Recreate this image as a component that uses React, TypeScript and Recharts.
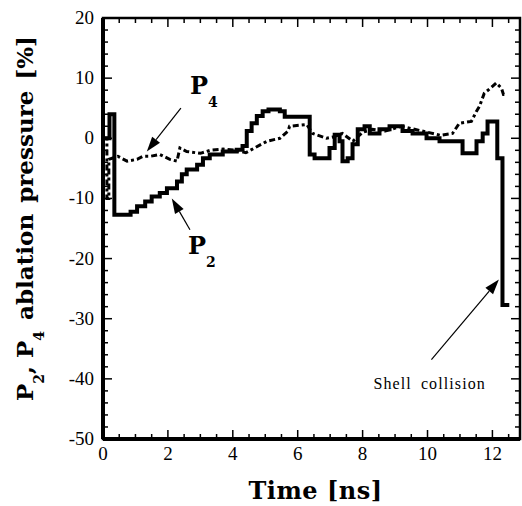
import { LineChart, Line, XAxis, YAxis, ReferenceLine, ReferenceDot, ReferenceArea, Label } from 'recharts';

// P2 mode (solid, stepped): time [ns] and value [%]
const p2Time = [0, 0.2, 0.35, 0.85, 1.05, 1.3, 1.5, 1.75, 1.97, 2.28, 2.43, 2.58, 2.9, 3.08, 3.29, 3.69, 4.12, 4.3, 4.43, 4.58, 4.74, 4.92, 5.1, 5.45, 5.6, 6.37, 6.52, 6.98, 7.14, 7.29, 7.38, 7.54, 7.69, 7.85, 8.06, 8.22, 8.52, 8.83, 9.23, 9.54, 9.97, 10.37, 10.77, 11.08, 11.51, 11.7, 11.85, 12.15, 12.31, 12.52];
const p2Values = [0, 4, -12.7, -12.2, -11.3, -10.5, -9.7, -9.1, -8.3, -7.2, -6, -5.2, -4.4, -3.3, -2.7, -2.2, -1.9, -1.3, 1.2, 2.5, 3.7, 4.5, 4.8, 4.5, 3.6, -2.7, -3.3, -1.6, 0.6, -0.5, -3.8, -3.3, -1, 1.5, 2, 0.8, 1.5, 2, 1.2, 0.8, 0, -0.5, -0.5, -2.5, -0.5, 0.8, 2.8, -3.3, -27.7, -27.7];

// P4 mode (dash-dot)
const p4Time = [0, 0.12, 0.12, 0.18, 0.18, 0.46, 0.74, 1.05, 1.23, 1.45, 1.75, 2.06, 2.28, 2.37, 2.58, 3.0, 3.3, 3.7, 4.1, 4.4, 5.05, 5.45, 5.7, 5.75, 6.28, 6.46, 6.89, 7.08, 7.38, 7.7, 8.0, 8.3, 8.7, 9.2, 9.6, 10.0, 10.4, 10.77, 10.98, 11.35, 11.51, 11.6, 11.75, 11.91, 12.12, 12.28, 12.34, 12.46];
const p4Values = [0, 0, -10, -10, -3.5, -3, -3.8, -3.5, -3, -3, -2.7, -3.5, -3.8, -1.6, -2.2, -2.5, -2, -1.8, -2, -2.4, -0.5, 0, 1.2, 2, 2.3, 0.8, 0, 0.2, 0.8, -0.5, 1, 1.5, 1.2, 2, 1.5, 1, 0.5, 0.8, 2.5, 2.8, 4.5, 5.3, 7.5, 8.2, 9.2, 8.3, 7.3, 7.3];

const xMajorTicks = [0, 2, 4, 6, 8, 10, 12];
const xMinorTicks = [0, 0.5, 1, 1.5, 2, 2.5, 3, 3.5, 4, 4.5, 5, 5.5, 6, 6.5, 7, 7.5, 8, 8.5, 9, 9.5, 10, 10.5, 11, 11.5, 12, 12.5];
const yMajorTicks = [-50, -40, -30, -20, -10, 0, 10, 20];
const yMinorTicks = [-50, -48, -46, -44, -42, -40, -38, -36, -34, -32, -30, -28, -26, -24, -22, -20, -18, -16, -14, -12, -10, -8, -6, -4, -2, 0, 2, 4, 6, 8, 10, 12, 14, 16, 18, 20];

const p2Data = p2Time.map((t, i) => ({ t, v: p2Values[i] }));
const p4Data = p4Time.map((t, i) => ({ t, v: p4Values[i] }));

// plot frame in px (margin + axis sizes below)
const frame = { left: 103, right: 520, top: 18, bottom: 439 };

const tickFont = 'Liberation Serif, serif';
const titleFont = 'DejaVu Serif, serif';

function BottomTick(props: any) {
  const major = xMajorTicks.includes(props.payload.value);
  const len = major ? 9 : 5;
  return (
    <g>
      <line x1={props.x} y1={frame.bottom} x2={props.x} y2={frame.bottom - len} stroke="black" strokeWidth={1.5} />
      <line x1={props.x} y1={frame.top} x2={props.x} y2={frame.top + len} stroke="black" strokeWidth={1.5} />
      {major && (
        <text x={props.x} y={frame.bottom + 21} textAnchor="middle" fontFamily={tickFont} fontSize={19} fill="black">
          {props.payload.value}
        </text>
      )}
    </g>
  );
}

function LeftTick(props: any) {
  const major = yMajorTicks.includes(props.payload.value);
  const len = major ? 9 : 5;
  return (
    <g>
      <line x1={frame.left} y1={props.y} x2={frame.left + len} y2={props.y} stroke="black" strokeWidth={1.5} />
      <line x1={frame.right} y1={props.y} x2={frame.right - len} y2={props.y} stroke="black" strokeWidth={1.5} />
      {major && (
        <text x={frame.left - 9} y={props.y + 6} textAnchor="end" fontFamily={tickFont} fontSize={19} fill="black">
          {props.payload.value}
        </text>
      )}
    </g>
  );
}

function Arrow({ x1, y1, x2, y2 }: any) {
  const dx = x2 - x1;
  const dy = y2 - y1;
  const len = Math.sqrt(dx * dx + dy * dy);
  const ux = dx / len;
  const uy = dy / len;
  const bx = x2 - ux * 15;
  const by = y2 - uy * 15;
  const pts = `${x2},${y2} ${bx - uy * 5},${by + ux * 5} ${bx + uy * 5},${by - ux * 5}`;
  return (
    <g>
      <line x1={x1} y1={y1} x2={bx} y2={by} stroke="black" strokeWidth={1.2} />
      <polygon points={pts} fill="black" />
    </g>
  );
}

const modeLabel = (sub: string) => ({ cx, cy }: any) => (
  <text x={cx} y={cy} fontFamily={titleFont} fontWeight="bold" fontSize={24} fill="black">
    P
    <tspan dy={13} fontSize={14}>{sub}</tspan>
  </text>
);

const shellLabel = ({ cx, cy }: any) => (
  <text x={cx} y={cy} textAnchor="end" fontFamily={tickFont} fontSize={16} letterSpacing={1.1} wordSpacing={4} fill="black">
    Shell collision
  </text>
);

function YTitle({ viewBox }: any) {
  const x = viewBox.x + 33;
  const y = viewBox.y + viewBox.height / 2 - 10;
  return (
    <text transform={`translate(${x},${y}) rotate(-90)`} textAnchor="middle" fontFamily={titleFont} fontWeight="bold" fontSize={23} fill="black">
      P<tspan dy={11} fontSize={14}>2</tspan>
      <tspan dy={-11}>, P</tspan>
      <tspan dy={11} fontSize={14}>4</tspan>
      <tspan dy={-11} wordSpacing={3}> ablation pressure [%]</tspan>
    </text>
  );
}

function XTitle({ viewBox }: any) {
  return (
    <text x={viewBox.x + viewBox.width / 2 + 4} y={viewBox.y + 60} textAnchor="middle" fontFamily={titleFont} fontWeight="bold" fontSize={24} letterSpacing={0.5} fill="black">
      Time [ns]
    </text>
  );
}

export default function App() {
  return (
    <div style={{ position: 'absolute', left: 0, top: 0, width: 522, height: 506, background: '#fff' }}>
      <LineChart width={522} height={506} margin={{ top: 18, right: 2, left: 0, bottom: 37 }}>
        <XAxis
          dataKey="t"
          type="number"
          domain={[0, 12.85]}
          ticks={xMinorTicks}
          interval={0}
          tickLine={false}
          tick={<BottomTick />}
          axisLine={{ stroke: 'black', strokeWidth: 4 }}
          height={30}
          allowDataOverflow
        >
          <Label content={<XTitle />} />
        </XAxis>
        <YAxis
          type="number"
          domain={[-50, 20]}
          ticks={yMinorTicks}
          interval={0}
          tickLine={false}
          tick={<LeftTick />}
          axisLine={{ stroke: 'black', strokeWidth: 4 }}
          width={103}
          allowDataOverflow
        >
          <Label content={<YTitle />} />
        </YAxis>
        <ReferenceArea x1={0} x2={12.85} y1={-50} y2={20} fill="none" fillOpacity={0} stroke="black" strokeWidth={2.5} ifOverflow="visible" />
        <Line data={p4Data} dataKey="v" type="linear" stroke="black" strokeWidth={3} strokeDasharray="6 3 3 3" dot={false} isAnimationActive={false} />
        <Line data={p2Data} dataKey="v" type="stepAfter" stroke="black" strokeWidth={4} dot={false} isAnimationActive={false} />
        <ReferenceLine segment={[{ x: 2.4, y: 5 }, { x: 1.35, y: -2.2 }]} shape={(p: any) => <Arrow {...p} />} />
        <ReferenceLine segment={[{ x: 2.68, y: -15.2 }, { x: 2.12, y: -10 }]} shape={(p: any) => <Arrow {...p} />} />
        <ReferenceLine segment={[{ x: 10.12, y: -36.8 }, { x: 12.2, y: -23.5 }]} shape={(p: any) => <Arrow {...p} />} />
        <ReferenceDot x={2.68} y={7.3} r={0} shape={modeLabel('4')} />
        <ReferenceDot x={2.62} y={-19.2} r={0} shape={modeLabel('2')} />
        <ReferenceDot x={11.8} y={-41.7} r={0} shape={shellLabel} />
      </LineChart>
    </div>
  );
}
